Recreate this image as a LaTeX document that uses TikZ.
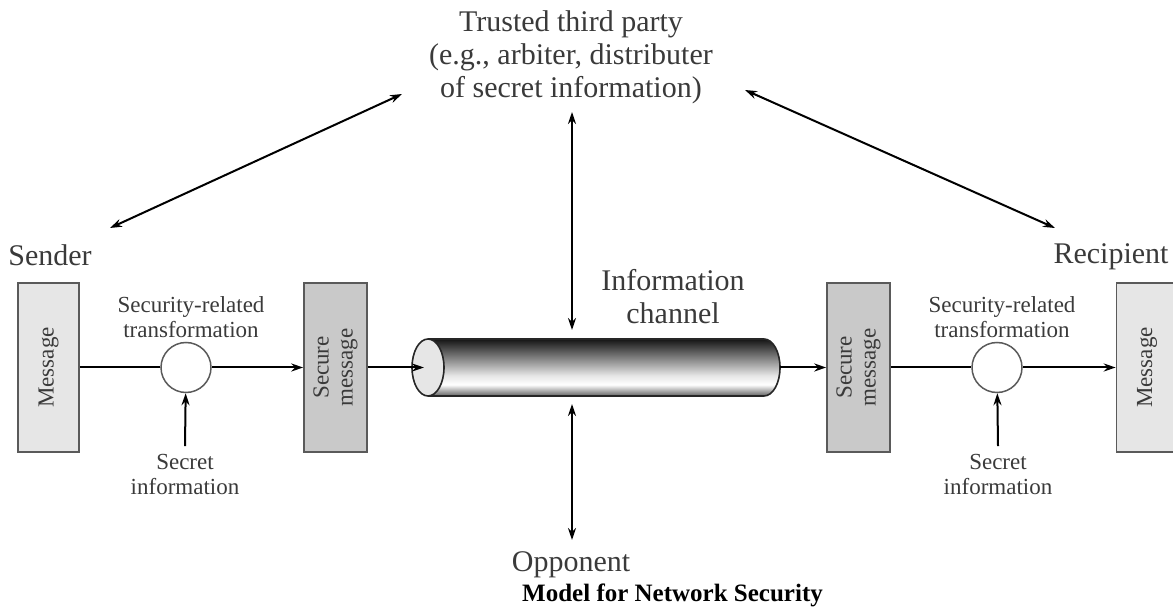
\documentclass[tikz,border=0pt]{standalone}
\usepackage{fontspec}
\setmainfont{Liberation Serif}
\usepackage{tikz}
\usetikzlibrary{arrows.meta,positioning}
\definecolor{txtgray}{HTML}{3A3A3A}
\definecolor{boxline}{HTML}{5A5A5A}
\definecolor{msgfill}{HTML}{E6E6E6}
\definecolor{secfill}{HTML}{C9C9C9}
\pgfdeclareverticalshading{pipeshade}{100bp}{color(0bp)=(black!62); color(25bp)=(black!62); color(35bp)=(white); color(43bp)=(white!90!black); color(75bp)=(black!92); color(100bp)=(black!92)}

\begin{document}
\begin{tikzpicture}[x=1pt,y=1pt,
	lbl/.style={text=txtgray,font=\fontsize{30}{33}\selectfont,align=center,inner sep=0pt},
	small/.style={text=txtgray,font=\fontsize{23}{25}\selectfont,align=center,inner sep=0pt},
	msgbox/.style={draw=boxline,line width=1.6pt,fill=msgfill,rotate=90,minimum width=169pt,minimum height=61pt,
		text=txtgray,font=\fontsize{23}{24}\selectfont,align=center,inner sep=0pt},
	secbox/.style={msgbox,fill=secfill,minimum height=63pt},
	xform/.style={circle,draw=boxline,line width=1.5pt,fill=white,minimum size=50pt,inner sep=0pt},
	wire/.style={line width=2pt},
	link/.style={wire,-{Stealth[length=12pt,width=8pt]}},
	both/.style={wire,{Stealth[length=12pt,width=8pt]}-{Stealth[length=12pt,width=8pt]}},
	]
	\useasboundingbox (0,0) rectangle (1173,-609);
	%% 发送方
	\node[msgbox] (msgL) at (48.5,-367.5) {Message};
	\node[xform] (circL) at (186,-367.5) {};
	\node[secbox] (secL) at (335.5,-367.5) {Secure\\message};
	\node[lbl] (sender) at (50,-255) {Sender};
	\node[small] (xfL) at (191,-317.5) {Security-related\\transformation};
	\node[small] (secretL) at (185,-474.5) {Secret\\information};
	%% 信道 (圆柱)
	\fill[shading=pipeshade] (428,-339) -- (764,-339) arc[start angle=90,end angle=-90,x radius=16,y radius=28.5] -- (428,-396) -- cycle;
	\draw[line width=1.6pt,black!85] (428,-339) -- (764,-339) arc[start angle=90,end angle=-90,x radius=16,y radius=28.5] -- (428,-396);
	\draw[line width=1.6pt,draw=black!85,fill=msgfill] (428,-367.5) ellipse[x radius=16,y radius=28.5];
	\coordinate (pipeIn) at (424,-367.5);
	\coordinate (pipeOut) at (780,-367.5);
	\node[lbl] (chan) at (673,-297) {Information\\channel};
	%% 接收方
	\node[secbox] (secR) at (858.5,-367.5) {Secure\\message};
	\node[xform] (circR) at (997,-367.5) {};
	\node[msgbox] (msgR) at (1147,-367.5) {Message};
	\node[lbl] (recip) at (1111,-257) {Recipient};
	\node[small] (xfR) at (1002,-317.5) {Security-related\\transformation};
	\node[small] (secretR) at (998,-474.5) {Secret\\information};
	%% 上下
	\node[lbl] (trusted) at (571,-57) {Trusted third party\\(e.g., arbiter, distributer\\of secret information)};
	\node[lbl] (opp) at (571,-565) {Opponent};
	\node[font=\bfseries\fontsize{25}{28}\selectfont,anchor=west,inner sep=0pt] (title) at (522,-595) {Model for Network Security};
	\coordinate (ttpL) at (402,-94);
	\coordinate (sendL) at (110,-228);
	\coordinate (ttpR) at (745,-90);
	\coordinate (recvR) at (1055,-228);
	\coordinate (ttpD) at (572,-112);
	\coordinate (chanU) at (572,-330);
	\coordinate (chanD) at (572,-404);
	\coordinate (oppU) at (572,-540);
	% 连线
	\draw[wire] (msgL) -- (circL);
	\draw[link] (circL) -- (secL);
	\draw[link] (secL) -- (pipeIn);
	\draw[link] (pipeOut) -- (secR);
	\draw[wire] (secR) -- (circR);
	\draw[link] (circR) -- (msgR);
	\draw[link] ([yshift=8pt]secretL.north) -- (circL);
	\draw[link] ([yshift=8pt]secretR.north) -- (circR);
	\draw[both] (sendL) -- (ttpL);
	\draw[both] (ttpR) -- (recvR);
	\draw[both] (ttpD) -- (chanU);
	\draw[both] (chanD) -- (oppU);
\end{tikzpicture}
\end{document}
